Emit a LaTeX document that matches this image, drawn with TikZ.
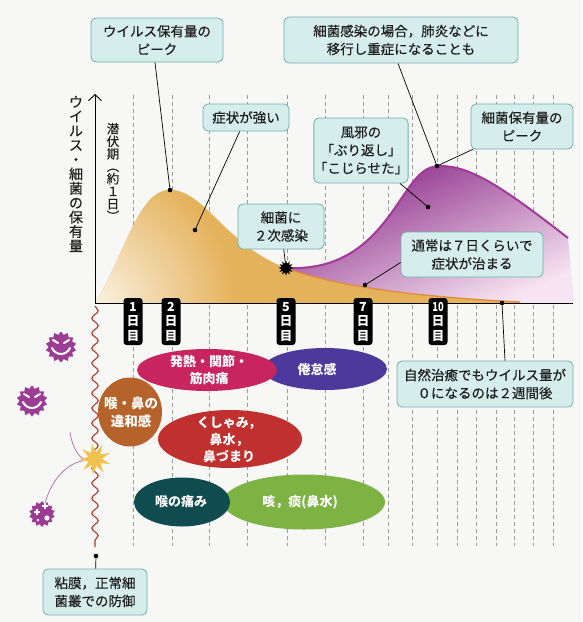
\documentclass[tikz,border=0pt]{standalone}
\usepackage{fontspec}
\setmainfont{Noto Sans CJK JP}
\newfontfamily\calloutfont{Noto Sans CJK JP}[FakeBold=0.3]
\usetikzlibrary{shapes.geometric,arrows.meta,calc,decorations.pathmorphing}

\definecolor{paper}{HTML}{F7F7F6}
\definecolor{boxfill}{HTML}{D5EDEB}
\definecolor{boxline}{HTML}{6FB0AE}
\definecolor{ink}{HTML}{1E1E1E}
\definecolor{virtan}{HTML}{E5B25C}
\definecolor{virtanlight}{HTML}{FBF2E2}
\definecolor{tanedge}{HTML}{E08A3C}
\definecolor{plumdark}{HTML}{8A2886}
\definecolor{plummid}{HTML}{A8499F}
\definecolor{plumlight}{HTML}{F6E4F2}
\definecolor{plumline}{HTML}{A23A98}
\definecolor{germ}{HTML}{9B3C95}
\definecolor{gridgray}{HTML}{9A9A9A}
\definecolor{wavered}{HTML}{B5392A}
\definecolor{burst}{HTML}{F2C24F}
\definecolor{arcpurple}{HTML}{B476B4}
\definecolor{symfever}{HTML}{C8245E}
\definecolor{symtired}{HTML}{4B3A9B}
\definecolor{symthroat}{HTML}{B6632B}
\definecolor{symnose}{HTML}{BF302E}
\definecolor{sympain}{HTML}{0F4B4F}
\definecolor{symcough}{HTML}{7CB342}

\begin{document}
\begin{tikzpicture}[x=1pt,y=-1pt,
  callout/.style={draw=boxline, fill=boxfill, rounded corners=5pt, line width=0.8pt,
    align=center, inner sep=0pt, text=ink, font=\calloutfont\fontsize{13.5}{18}\selectfont},
  symptom/.style={ellipse, inner sep=0pt, draw=none},
  symtext/.style={align=center, text=white, inner sep=0pt,
    font=\bfseries\fontsize{13}{17}\selectfont},
  daymark/.style={fill=black, rounded corners=3pt, minimum width=19pt, minimum height=47pt,
    inner sep=0pt, align=center, text=white, font=\bfseries\fontsize{12.5}{14.5}\selectfont},
  leader/.style={draw=black, line width=0.7pt},
  dot/.style={circle, fill=black, inner sep=0pt, minimum size=4.6pt},
  gridline/.style={draw=gridgray, line width=0.5pt, dash pattern=on 4pt off 3pt},
  germbody/.style={star, star points=14, star point ratio=1.25, fill=germ, draw=none, inner sep=0pt},
  face/.style={draw=white, line width=2pt, line cap=round},
]
% page
\fill[paper] (0,0) rectangle (582,622);
\useasboundingbox (0,0) rectangle (582,622);

% day grid
\foreach \gx in {133,172,209,247,287,325,363,388,412,437,457,476,496,514,533,553}
  \draw[gridline] (\gx,95) -- (\gx,546);

% bacterial load
\shade[top color=plumdark, middle color=plummid, bottom color=plumlight, shading angle=24]
  (286,268) .. controls (335,270) and (365,250) .. (392,212)
  .. controls (412,184) and (420,166) .. (440,166)
  .. controls (470,166) and (500,185) .. (568,238)
  -- (574,303) -- (286,303) -- cycle;

% viral load
\fill[virtan]
  (95,303) .. controls (125,255) and (138,190) .. (170,190)
  .. controls (205,190) and (225,245) .. (286,268)
  .. controls (330,284) and (400,296) .. (520,302) -- (520,303) -- cycle;
\begin{scope}
  \clip (95,303) .. controls (125,255) and (138,190) .. (170,190)
    .. controls (205,190) and (225,245) .. (286,268)
    .. controls (330,284) and (400,296) .. (520,302) -- (520,303) -- cycle;
  \shade[inner color=virtanlight, outer color=virtan] (95,303) circle (140);
\end{scope}

\draw[plumline, line width=2pt]
  (286,268) .. controls (335,270) and (365,250) .. (392,212)
  .. controls (412,184) and (420,166) .. (440,166)
  .. controls (470,166) and (500,185) .. (568,238);
\draw[tanedge, line width=1.3pt]
  (286,268) .. controls (330,284) and (400,296) .. (520,302);

% axes
\coordinate (O) at (95,303);
\coordinate (ytop) at (95,94);
\coordinate (xend) at (573,303);
\draw[line width=0.9pt] (O) -- (xend);
\draw[line width=0.9pt, -{Straight Barb[length=6pt,width=13pt]}] (O) -- (ytop);

\node[font=\calloutfont\fontsize{14}{14.4}\selectfont, align=center, inner sep=0pt, text=ink] (ylab) at (76,174)
  {ウ\\イ\\ル\\ス\\・\\細\\菌\\の\\保\\有\\量};
\node[font=\calloutfont\fontsize{12.5}{12.5}\selectfont, align=center, inner sep=0pt, text=ink] (latent) at (113,172)
  {潜\\伏\\期\\︵\\約\\１\\日\\︶};

% day markers
\node[daymark] (day1)  at (133,321.5) {1\\日\\目};
\node[daymark] (day2)  at (171,321.5) {2\\日\\目};
\node[daymark] (day5)  at (286,321.5) {5\\日\\目};
\node[daymark] (day7)  at (363,321.5) {7\\日\\目};
\node[daymark] (day10) at (438,321.5) {\scalebox{0.75}[1]{10}\\日\\目};

% secondary infection point
\node[star, star points=12, star point ratio=1.7, fill=black, minimum size=15pt, inner sep=0pt] (germstar) at (286,268) {};

% target points
\node[dot] (d1)  at (170,190) {};
\node[dot] (d3)  at (195,230) {};
\node[dot] (dpk) at (437,166) {};
\node[dot] (d4)  at (428,207) {};
\node[dot] (d7)  at (365,285) {};
\node[dot] (d8)  at (502,303) {};
\node[dot] (d9)  at (96,556) {};

% callouts
\node[callout, minimum width=132pt, minimum height=44pt] (c1) at (157,40) {ウイルス保有量の\\ピーク};
\node[callout, minimum width=234pt, minimum height=46pt] (c2) at (401,40) {細菌感染の場合，肺炎などに\\移行し重症になることも};
\node[callout, minimum width=86pt, minimum height=27pt] (c3) at (246,117.5) {症状が強い};
\node[callout, minimum width=94pt, minimum height=65pt] (c4) at (361,150.5) {風邪の\\「ぶり返し」\\「こじらせた」};
\node[callout, minimum width=102pt, minimum height=45pt] (c5) at (522,126.5) {細菌保有量の\\ピーク};
\node[callout, minimum width=86pt, minimum height=45pt] (c6) at (281,226.5) {細菌に\\２次感染};
\node[callout, minimum width=142pt, minimum height=45pt] (c7) at (472,254.5) {通常は７日くらいで\\症状が治まる};
\node[callout, minimum width=176pt, minimum height=46pt] (c8) at (485,384) {自然治癒でもウイルス量が\\０になるのは２週間後};
\node[callout, minimum width=104pt, minimum height=46pt] (c9) at (95,592) {粘膜，正常細\\菌叢での防御};

% leaders
\draw[leader] ($(c1.south)+(-2,0)$) -- (d1);
\draw[leader] ($(c2.south)+(-3,0)$) -- (dpk);
\draw[leader] (c3) -- (d3);
\draw[leader] (c4) -- (d4);
\draw[leader] (c5) -- (dpk);
\draw[leader] (c6) -- (germstar);
\draw[leader] ($(c7.west)+(0,8)$) -- (d7);
\draw[leader] ($(c8.north)+(20,0)$) -- (d8);
\draw[leader] (c9) -- (d9);

% symptoms
\node[symptom, fill=symtired, minimum width=124pt, minimum height=42pt] (e2) at (325,369) {};
\node[symtext] (e2text) at (317,369) {倦怠感};
\node[symptom, fill=symfever, minimum width=140pt, minimum height=42pt] (e1) at (207,370) {};
\node[symtext] (e1text) at (209,370) {発熱・関節・\\筋肉痛};
\node[symptom, fill=symthroat, minimum width=64pt, minimum height=69pt] (e3) at (130,412) {};
\node[symtext, font=\bfseries\fontsize{13.5}{18}\selectfont] (e3text) at (131,412) {喉・鼻の\\違和感};
\node[symptom, fill=symnose, minimum width=144pt, minimum height=58pt] (e4) at (230,439) {};
\node[symtext] (e4text) at (229,440) {くしゃみ，\\鼻水，\\鼻づまり};
\node[symptom, fill=symcough, minimum width=162pt, minimum height=55pt] (e5) at (304,502) {};
\node[symtext] (e5text) at (300,502) {咳，痰(鼻水)};
\node[symptom, fill=sympain, minimum width=96pt, minimum height=49pt] (e6) at (182,502) {};
\node[symtext] (e6text) at (181,502) {喉の痛み};

% mucosal barrier
\draw[wavered, line width=1.1pt, decorate, decoration={snake, segment length=15pt, amplitude=3.2pt}]
  (95,306) -- (95,547);

% invading germs
\node[germbody, minimum size=31pt] (g1) at (61,347) {};
\draw[face] (53,340) -- (58,343);
\draw[face] (69,340) -- (64,343);
\draw[face] (52,348) .. controls (56,356) and (66,356) .. (70,348);

\node[germbody, minimum size=31pt] (g2) at (32,401) {};
\draw[face] (24,394) -- (29,397);
\draw[face] (40,394) -- (35,397);
\draw[face] (23,402) .. controls (27,410) and (37,410) .. (41,402);

\node[germbody, minimum size=26pt] (g3) at (42,514) {};
\draw[white, line width=1.4pt] (34,512) -- (40,512) (37,509) -- (37,515);
\draw[white, line width=1.4pt] (42,506) -- (48,506) (45,503) -- (45,509);
\fill[white] (47,518) circle (2.6);
\fill[white] (38,520) circle (1.3);

\node[star, star points=9, star point ratio=2.3, fill=burst, minimum size=32pt, inner sep=0pt, rotate=12] (hit) at (95,459) {};
\draw[arcpurple, line width=0.8pt] (g3) .. controls (52,478) and (68,463) .. (hit);
\draw[arcpurple, line width=0.8pt] (70,432) .. controls (72,448) and (80,458) .. (hit);

\end{tikzpicture}
\end{document}
